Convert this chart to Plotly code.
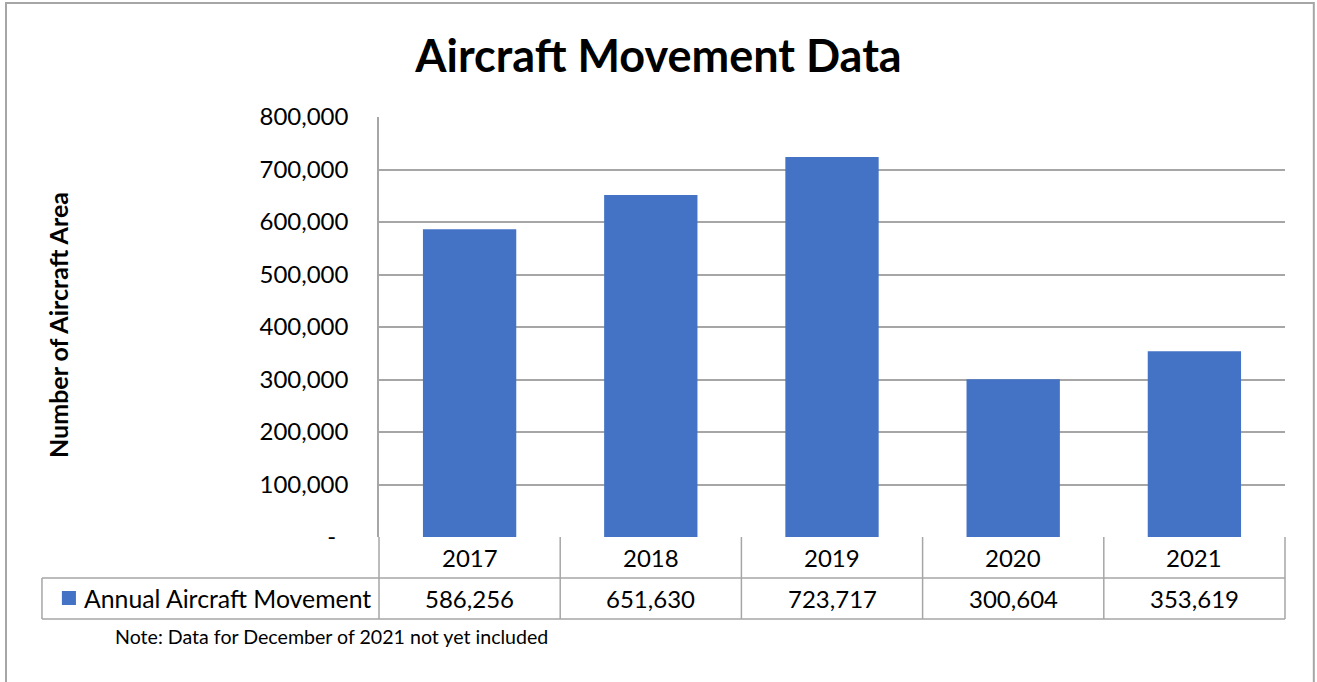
import plotly.graph_objects as go

# chart data
years = ["2017", "2018", "2019", "2020", "2021"]
movements = [586256, 651630, 723717, 300604, 353619]
y_ticks = [0, 100000, 200000, 300000, 400000, 500000, 600000, 700000, 800000]
series_name = "Annual Aircraft Movement"
note = "Note: Data for December of 2021 not yet included"

BAR_COLOR = "#4472C4"
GRID = "#a6a6a6"
FONT = "Lato, Carlito, sans-serif"


def tick_label(v):
    # Excel accounting style: zero shows as a dash
    return "-\u00a0\u00a0" if v == 0 else f"{v:,}"


fig = go.Figure()
fig.add_trace(go.Bar(x=years, y=movements, name=series_name,
                     marker=dict(color=BAR_COLOR, line=dict(width=0))))

# data table below the plot: year row and value row
row_year = -0.049
row_value = -0.147
annotations = []
for i, (yr, val) in enumerate(zip(years, movements)):
    annotations.append(dict(x=i, y=row_year, xref="x", yref="paper", text=yr,
                            xanchor="center", yanchor="middle",
                            showarrow=False, font=dict(size=24, color="black")))
    annotations.append(dict(x=i, y=row_value, xref="x", yref="paper", text=f"{val:,}",
                            xanchor="center", yanchor="middle",
                            showarrow=False, font=dict(size=24, color="black")))
annotations.append(dict(x=-0.3275, y=row_value, xref="x domain", yref="paper",
                        xanchor="left", yanchor="middle",
                        text=series_name, showarrow=False, font=dict(size=24.8, color="black")))
annotations.append(dict(x=-0.2936, y=-0.236, xref="x domain", yref="paper",
                        xanchor="left", yanchor="middle",
                        text=note, showarrow=False, font=dict(size=19.6, color="black")))
annotations.append(dict(x=-0.3543, y=0.505, xref="paper", yref="paper", textangle=-90,
                        xanchor="center", yanchor="middle",
                        text="<b>Number of Aircraft Area</b>", showarrow=False,
                        font=dict(size=25, color="black")))

line = dict(color=GRID, width=1.5)
shapes = []
n = len(years)
# vertical column separators of the table
for i in range(n + 1):
    shapes.append(dict(type="line", xref="x domain", yref="paper", x0=i / n, x1=i / n,
                       y0=0, y1=-0.195, line=line))
# horizontal table lines
shapes.append(dict(type="line", xref="x domain", yref="paper", x0=-0.372, x1=1,
                   y0=-0.0976, y1=-0.0976, line=line))
shapes.append(dict(type="line", xref="x domain", yref="paper", x0=-0.372, x1=1,
                   y0=-0.195, y1=-0.195, line=line))
shapes.append(dict(type="line", xref="x domain", yref="paper", x0=-0.372, x1=-0.372,
                   y0=-0.0976, y1=-0.195, line=line))
# legend key square
shapes.append(dict(type="rect", xref="x domain", yref="paper", x0=-0.350, x1=-0.3345,
                   y0=-0.1285, y1=-0.1619, fillcolor=BAR_COLOR, line=dict(width=0)))
# outer chart frame
shapes.append(dict(type="rect", xref="paper", yref="paper", x0=-0.4117, x1=1.0318,
                   y0=-0.6, y1=1.2715, line=dict(color=GRID, width=2), layer="below"))

fig.update_layout(
    width=1317, height=682,
    margin=dict(l=379, r=32, t=117, b=145, autoexpand=False),
    paper_bgcolor="white", plot_bgcolor="white",
    font=dict(family=FONT, color="black"),
    title=dict(text="<b>Aircraft Movement Data</b>", x=0.5, xanchor="center",
               y=0.918, yanchor="middle", font=dict(size=45, color="black")),
    showlegend=False,
    bargap=0.485,
    xaxis=dict(type="category", showgrid=False, showticklabels=False, zeroline=False,
               showline=False, range=[-0.5, n - 0.5]),
    yaxis=dict(range=[0, 800000], tickvals=y_ticks, ticktext=[tick_label(v) for v in y_ticks],
               tickfont=dict(size=24, color="black"), showgrid=True, gridcolor=GRID,
               gridwidth=1.5, zeroline=False, showline=True, linecolor=GRID, linewidth=1.5,
               ticks="", ticklabelstandoff=24),
    shapes=shapes,
    annotations=annotations,
)

fig.write_html("out.html", config={"displayModeBar": False},
               post_script="document.body.style.margin='0';")
